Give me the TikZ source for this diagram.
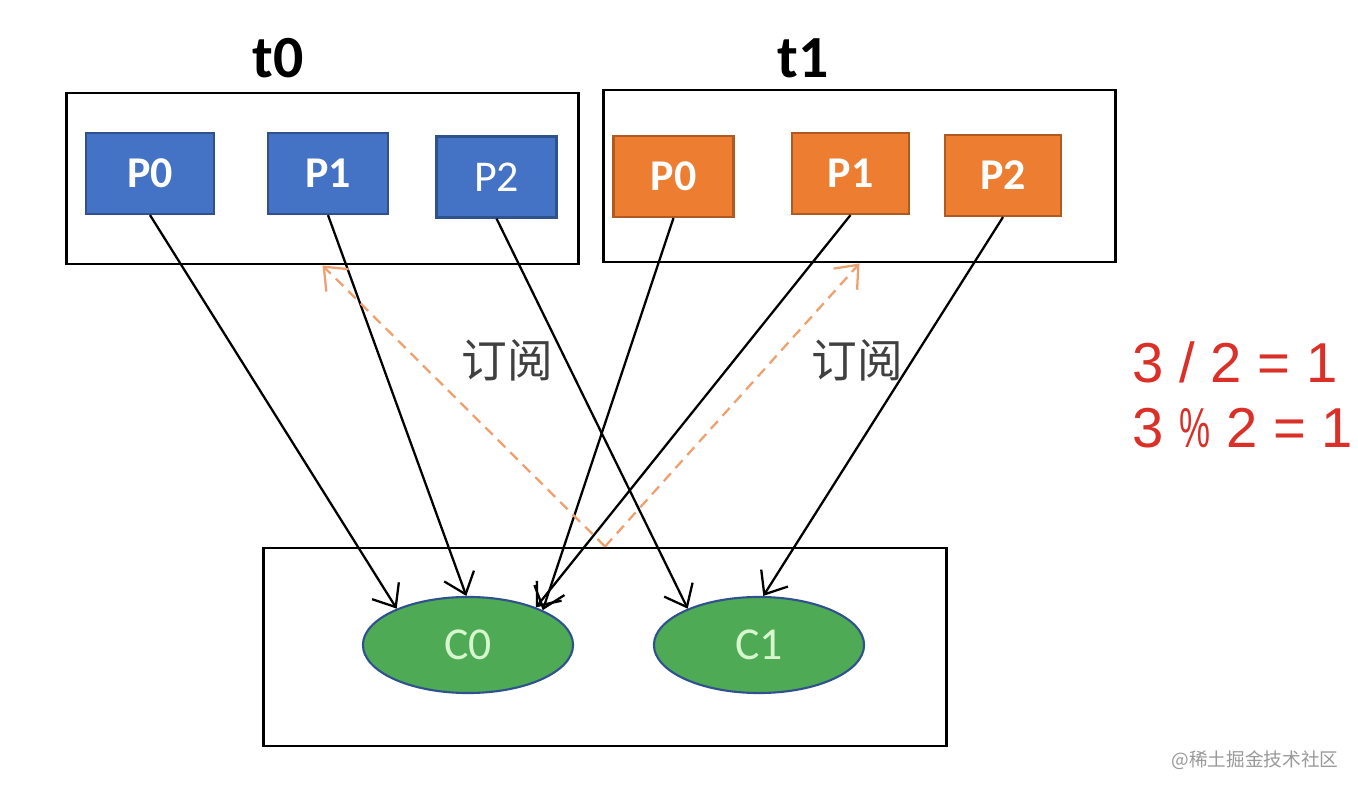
\documentclass[tikz,border=0pt]{standalone}
\usepackage{fontspec}
\setmainfont{Carlito}
\newfontfamily\redfont{Liberation Sans}
\newfontfamily\cjk{Noto Sans CJK SC}
\usetikzlibrary{shapes.geometric,arrows.meta}
\definecolor{pblue}{RGB}{68,114,196}
\definecolor{bline}{RGB}{47,82,143}
\definecolor{porange}{RGB}{237,125,49}
\definecolor{oline}{RGB}{174,90,33}
\definecolor{cgreen}{RGB}{78,170,84}
\definecolor{ctext}{RGB}{214,246,206}
\definecolor{dashorange}{RGB}{240,160,110}
\definecolor{calcred}{RGB}{218,48,40}
\begin{document}
\begin{tikzpicture}[x=0.01cm,y=-0.01cm,
    frame/.style={draw,line width=0.8pt,inner sep=0pt},
    part/.style={line width=0.6pt,inner sep=0pt,text=white,minimum width=1.2cm,minimum height=0.81cm,font=\fontsize{12.5}{14}\selectfont\bfseries},
    bpart/.style={part,draw=bline,fill=pblue},
    opart/.style={part,draw=oline,fill=porange},
    cons/.style={ellipse,draw=bline,line width=0.6pt,fill=cgreen,text=ctext,minimum width=2.1cm,minimum height=0.96cm,inner sep=0pt,font=\fontsize{13}{15}\selectfont},
    link/.style={-{Straight Barb[length=5.5pt,width=9pt]},line width=0.65pt},
    sub/.style={link,draw=dashorange,dash pattern=on 3pt off 2pt},
    calc/.style={anchor=west,inner sep=0pt,text=calcred,font=\redfont\fontsize{16}{18}\selectfont}]
    \useasboundingbox (0,0) rectangle (1358,792);
    % topic boxes
    \node[frame,minimum width=5.11cm,minimum height=1.71cm] (t0box) at (322.5,178.5) {};
    \node[frame,minimum width=5.11cm,minimum height=1.72cm] (t1box) at (859.5,176) {};
    \node[frame,minimum width=6.82cm,minimum height=1.98cm] (cbox) at (605,647) {};
    \node[font=\fontsize{17}{20}\selectfont\bfseries] (t0) at (278,58) {t0};
    \node[font=\fontsize{17}{20}\selectfont\bfseries] (t1) at (803,58) {t1};
    % partitions
    \node[bpart,minimum width=1.28cm] (bp0) at (150,173.5) {P0};
    \node[bpart] (bp1) at (328,173.5) {P1};
    \node[bpart,font=\fontsize{12.5}{14}\selectfont] (bp2) at (496.5,177) {P2};
    \node[opart] (op0) at (673.5,176.5) {P0};
    \node[opart,minimum width=1.17cm] (op1) at (850.5,173.5) {P1};
    \node[opart,minimum width=1.16cm] (op2) at (1003,175.5) {P2};
    % consumers
    \node[cons] (c0) at (468,645) {C0};
    \node[cons] (c1) at (759,645) {C1};
    % assignment
    \draw[link] (bp0.south) -- (c0.153);
    \draw[link] (bp1.south) -- (c0.92);
    \draw[link] (bp2.south) -- (c1.153);
    \draw[link] (op0.south) -- (c0.25);
    \draw[link] (op1.south) -- (c0.29);
    \draw[link] (op2.south) -- (c1.85);
    % subscribe
    \draw[sub] (cbox.north) -- (t0box.south);
    \draw[sub] (cbox.north) -- (t1box.south);
    \node[font=\cjk\fontsize{13}{15}\selectfont,text=black!75] (s0) at (507,360) {订阅};
    \node[font=\cjk\fontsize{13}{15}\selectfont,text=black!75] (s1) at (857,360) {订阅};
    \node[calc] (div) at (1132,362) {3 / 2 = 1};
    \node[calc] (mod) at (1132,428) {3 \scalebox{0.62}[1]{\%} 2 = 1};
    \node[text=black!40,font=\cjk\fontsize{5.3}{6}\selectfont] (wm) at (1255,760) {@稀土掘金技术社区};
\end{tikzpicture}
\end{document}
